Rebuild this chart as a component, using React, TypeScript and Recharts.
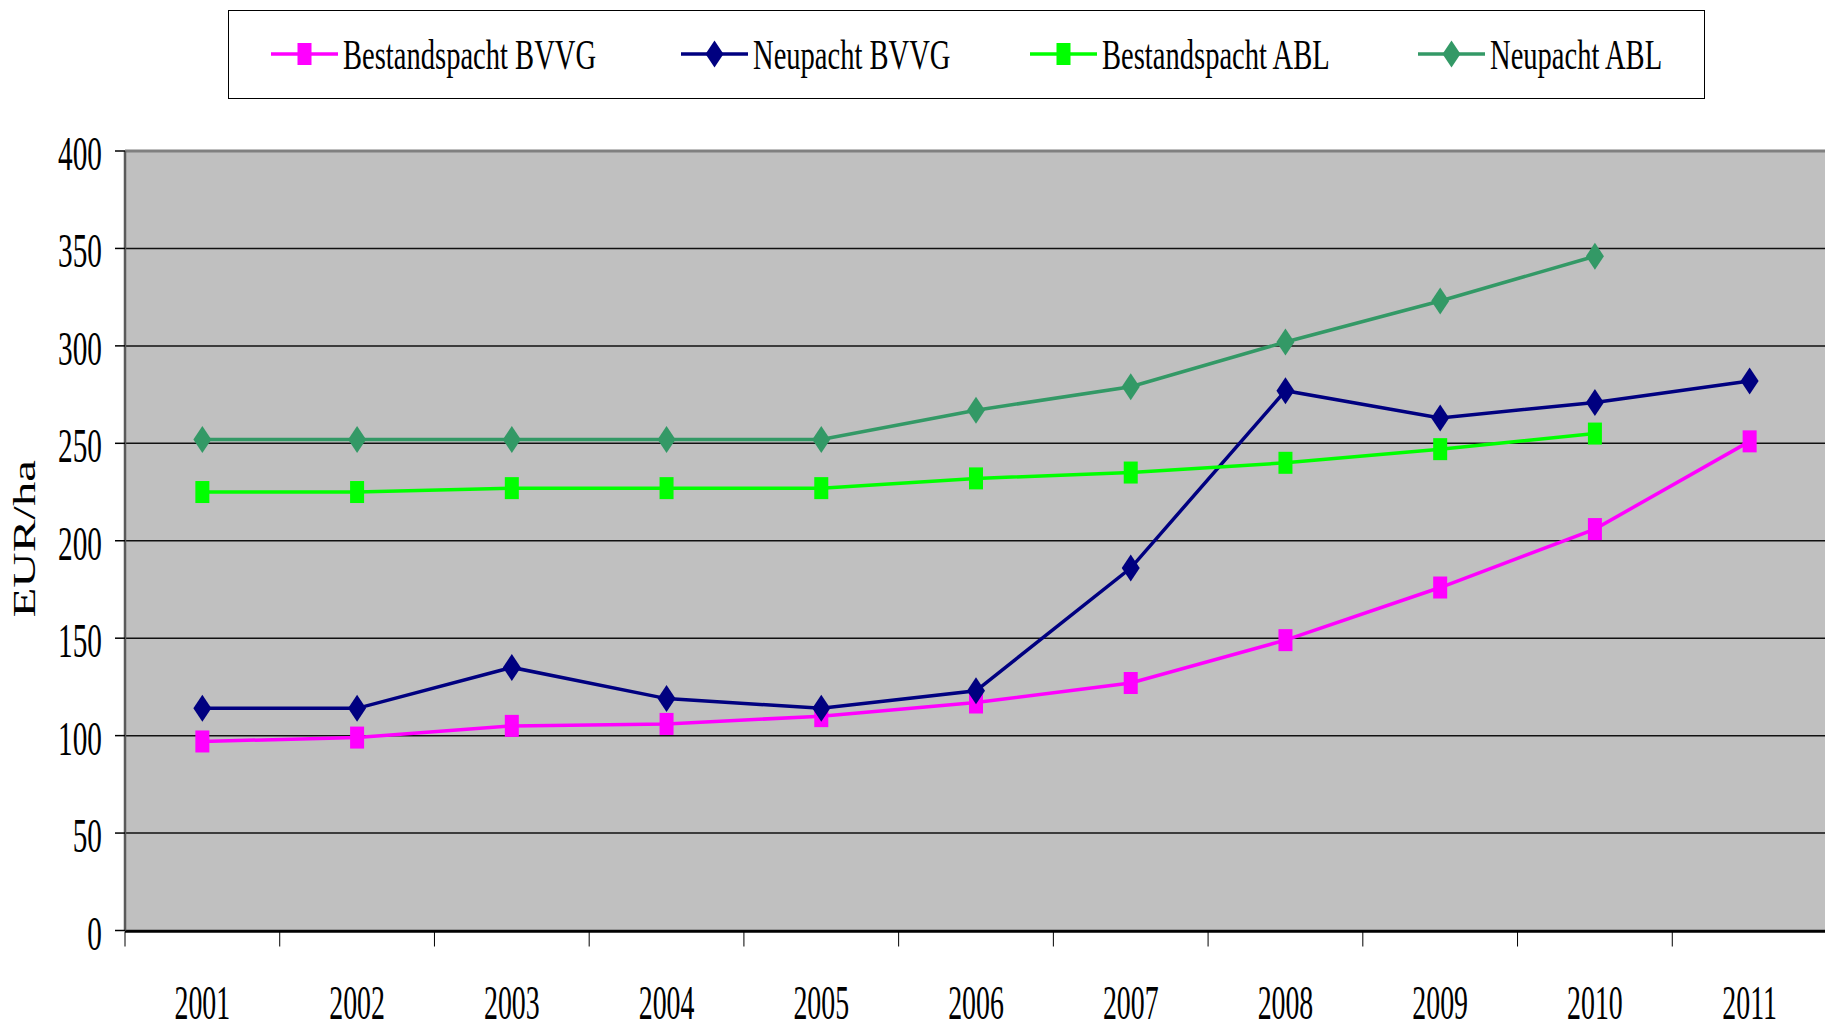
import React from 'react';
import { LineChart, Line, XAxis, YAxis, CartesianGrid, Legend, ReferenceLine } from 'recharts';

const years = [2001, 2002, 2003, 2004, 2005, 2006, 2007, 2008, 2009, 2010, 2011];
const bestandspachtBVVG = [97, 99, 105, 106, 110, 117, 127, 149, 176, 206, 251];
const neupachtBVVG = [114, 114, 135, 119, 114, 123, 186, 277, 263, 271, 282];
const bestandspachtABL = [225, 225, 227, 227, 227, 232, 235, 240, 247, 255, null];
const neupachtABL = [252, 252, 252, 252, 252, 267, 279, 302, 323, 346, null];
const yTicks = [0, 50, 100, 150, 200, 250, 300, 350, 400];
const categoryBoundaries = [...years.map((y) => y - 0.5), years[years.length - 1] + 0.5];

const seriesNames = ['Bestandspacht BVVG', 'Neupacht BVVG', 'Bestandspacht ABL', 'Neupacht ABL'];
const seriesKeys = ['bBVVG', 'nBVVG', 'bABL', 'nABL'];
const seriesColors = ['#FF00FF', '#000080', '#00FF00', '#339966'];
const seriesShapes = ['square', 'diamond', 'square', 'diamond'];

const data = years.map((year, i) => ({
  year,
  bBVVG: bestandspachtBVVG[i],
  nBVVG: neupachtBVVG[i],
  bABL: bestandspachtABL[i],
  nABL: neupachtABL[i],
}));

const FONT = "'Liberation Serif', 'Times New Roman', serif";

function markerEl(shape: string, color: string, cx: number, cy: number) {
  if (shape === 'square') {
    return <rect x={cx - 7} y={cy - 11} width={14} height={22} fill={color} />;
  }
  return (
    <polygon
      points={`${cx},${cy - 13.5} ${cx + 9},${cy} ${cx},${cy + 13.5} ${cx - 9},${cy}`}
      fill={color}
    />
  );
}

const makeDot = (shape: string, color: string) => (props: any) => {
  const { cx, cy, value, index } = props;
  if (cx == null || cy == null || value == null || Number.isNaN(cy)) return <g key={`e-${index}`} />;
  return <g key={`d-${index}`}>{markerEl(shape, color, cx, cy)}</g>;
};

const YTick = (props: any) => {
  const { x, y, payload } = props;
  return (
    <text
      transform={`translate(${x},${y}) scale(0.61,1)`}
      textAnchor="end"
      dy={19}
      fontSize={48}
      fontFamily={FONT}
      fill="#000"
    >
      {payload.value}
    </text>
  );
};

const XTick = (props: any) => {
  const { x, y, payload } = props;
  return (
    <text
      transform={`translate(${x},${y}) scale(0.58,1)`}
      textAnchor="middle"
      fontSize={48}
      fontFamily={FONT}
      fill="#000"
    >
      {payload.value}
    </text>
  );
};

const EmptyTick = () => <g />;

const YLabel = (props: any) => {
  const vb = props.viewBox || { x: 0, y: 151, width: 125, height: 780 };
  const x = vb.x + 35;
  const y = vb.y + vb.height / 2 - 2;
  return (
    <text
      transform={`translate(${x},${y}) scale(1,1.53) rotate(-90)`}
      textAnchor="middle"
      fontSize={32}
      fontFamily={FONT}
      fill="#000"
    >
      EUR/ha
    </text>
  );
};

const legendOffsets = [42, 452, 801, 1189];

const LegendBox = () => (
  <div
    style={{
      position: 'relative',
      width: 1477,
      height: 89,
      boxSizing: 'border-box',
      border: '1.5px solid #000',
      background: '#fff',
    }}
  >
    {seriesNames.map((name, i) => (
      <div key={name} style={{ position: 'absolute', left: legendOffsets[i], top: 0, height: 89 }}>
        <svg width={68} height={89} style={{ position: 'absolute', left: 0, top: 0 }}>
          <line x1={0} y1={43} x2={67} y2={43} stroke={seriesColors[i]} strokeWidth={3.5} />
          {markerEl(seriesShapes[i], seriesColors[i], 33.5, 43)}
        </svg>
        <div
          style={{
            position: 'absolute',
            left: 72,
            top: 16,
            fontFamily: FONT,
            fontSize: 42,
            lineHeight: '56px',
            whiteSpace: 'nowrap',
            color: '#000',
            transform: 'scaleX(0.68)',
            transformOrigin: 'left top',
          }}
        >
          {name}
        </div>
      </div>
    ))}
  </div>
);

export default function App() {
  return (
    <div style={{ position: 'absolute', left: 0, top: 0, background: '#fff' }}>
      <LineChart
        width={1825}
        height={1025}
        data={data}
        margin={{ top: 151, right: -2, bottom: 92.5, left: 0 }}
      >
        <CartesianGrid
          xAxisId="lab"
          vertical={false}
          fill="#C0C0C0"
          stroke="#111"
          strokeWidth={1.5}
        />
        <XAxis
          xAxisId="tk"
          type="number"
          dataKey="year"
          domain={[2000.5, 2011.5]}
          ticks={categoryBoundaries}
          interval={0}
          tick={<EmptyTick />}
          tickSize={15}
          tickLine={{ stroke: '#000', strokeWidth: 1 }}
          axisLine={{ stroke: '#000', strokeWidth: 2.5 }}
          height={1}
        />
        <XAxis
          xAxisId="lab"
          type="number"
          dataKey="year"
          domain={[2000.5, 2011.5]}
          ticks={years}
          interval={0}
          axisLine={false}
          tickLine={false}
          tickSize={0}
          tickMargin={88.5}
          tick={<XTick />}
          height={1}
        />
        <YAxis
          domain={[0, 400]}
          ticks={yTicks}
          interval={0}
          width={125}
          tickSize={10}
          tickMargin={13}
          tickLine={{ stroke: '#000', strokeWidth: 1.5 }}
          axisLine={{ stroke: '#5a5a5a', strokeWidth: 2.5 }}
          tick={<YTick />}
          label={{ content: <YLabel /> }}
        />
        <ReferenceLine xAxisId="lab" y={400} stroke="#808080" strokeWidth={3} />
        <Legend
          layout="horizontal"
          verticalAlign="middle"
          align="center"
          wrapperStyle={{ left: 228, top: 10, width: 1477, height: 89 }}
          content={<LegendBox />}
        />
        {seriesKeys.map((key, i) => (
          <Line
            key={key}
            xAxisId="lab"
            type="linear"
            dataKey={key}
            name={seriesNames[i]}
            stroke={seriesColors[i]}
            strokeWidth={3.5}
            dot={makeDot(seriesShapes[i], seriesColors[i])}
            activeDot={false}
            isAnimationActive={false}
            connectNulls={false}
          />
        ))}
      </LineChart>
    </div>
  );
}
